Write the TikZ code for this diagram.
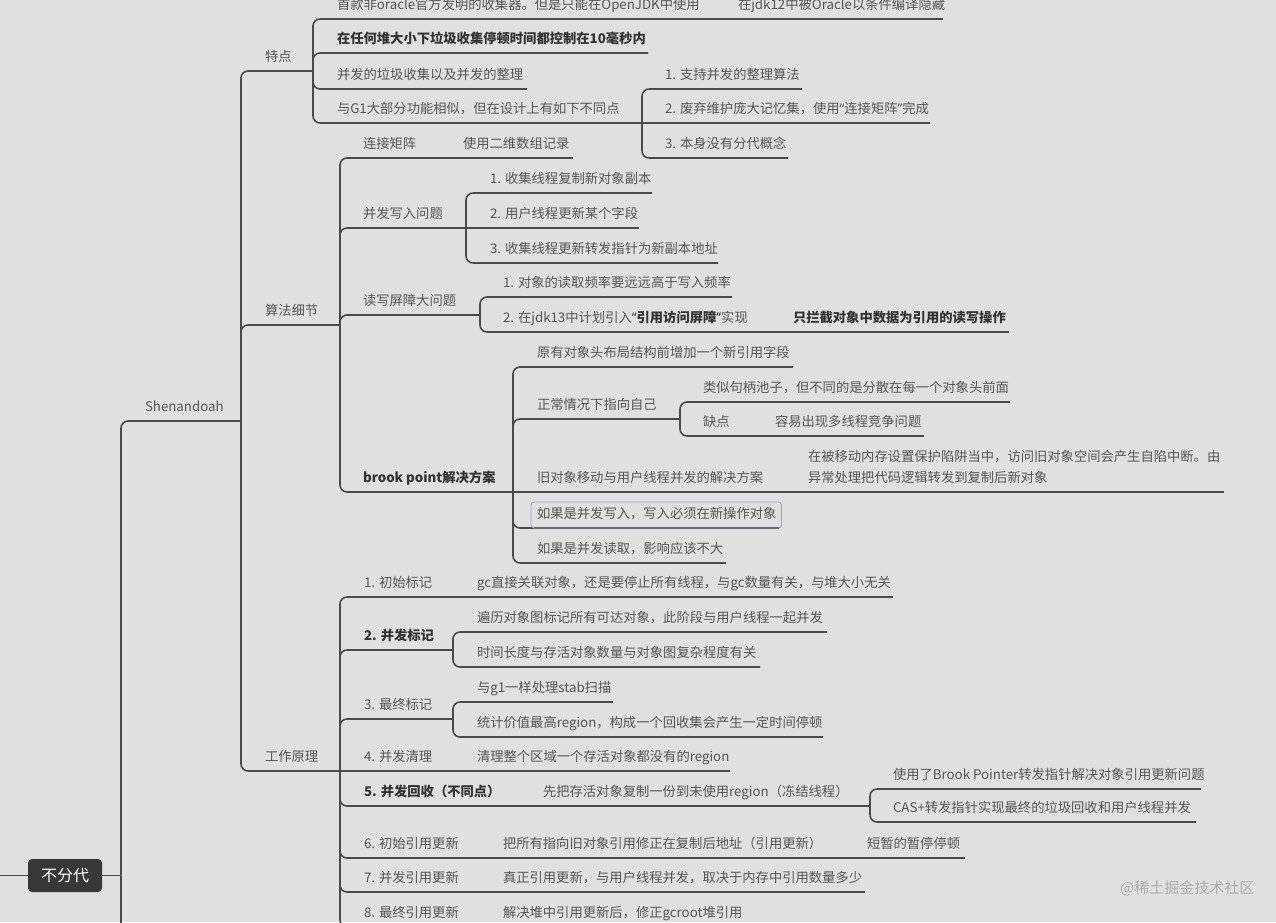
\documentclass[tikz,border=0pt]{standalone}
\usepackage{fontspec}
\setmainfont{Noto Sans CJK SC}
\newfontfamily\qfont{Noto Sans}
\definecolor{bg}{HTML}{E0E0E0}
\definecolor{ln}{HTML}{4A4A4A}
\definecolor{tx}{HTML}{555555}
\definecolor{tb}{HTML}{333333}
\definecolor{selc}{HTML}{A59BE3}
\definecolor{rootc}{HTML}{383838}
\definecolor{wm}{HTML}{ABABAB}
\begin{document}
\begin{tikzpicture}[x=1pt,y=-1pt,
  br/.style={draw=ln, line width=1.6pt, rounded corners=7pt},
  tp/.style={anchor=base west, inner sep=0pt, outer sep=0pt, text=tx, font=\fontsize{13.3}{16}\selectfont},
  tpb/.style={tp, text=tb, font=\fontsize{13.3}{16}\selectfont\bfseries},
  rootbox/.style={fill=rootc, rounded corners=4pt, minimum width=74pt, minimum height=33pt, inner sep=0pt, text=white, font=\fontsize{16}{18}\selectfont},
  selbox/.style={draw=selc, line width=0.9pt, rounded corners=3pt},
  wmark/.style={anchor=base west, inner sep=0pt, text=wm, font=\fontsize{15}{18}\selectfont},
]
\useasboundingbox (0,0) rectangle (1276,922);
\fill[bg] (0,0) rectangle (1276,922);
\clip (0,0) rectangle (1276,922);

% root
\node[rootbox] (root) at (65,875.5) {不分代};
\coordinate (in0) at (0,875.5);
\coordinate (b0) at (121,875.5);
\coordinate (off0) at (200,950);
\draw[br] (in0) -- (root.west);
\draw[br] (root.east) -- (b0);
\draw[br] (b0) |- (off0);

% level 1
\node[tp] (shen) at (145,411.5) {Shenandoah};
\coordinate (b1) at (241,421);
\draw[br] (b0) |- (b1);

% level 2
\node[tp] (tedian) at (265,61.5) {特点};
\coordinate (b2a) at (313,71);
\node[tp] (suanfa) at (265,315.5) {算法细节};
\coordinate (b2b) at (340,325);
\node[tp] (gongzuo) at (265,761.5) {工作原理};
\coordinate (b2c) at (340,771);
\draw[br] (b1) |- (b2a);
\draw[br] (b1) |- (b2b);
\draw[br] (b1) |- (b2c);

% 特点
\node[tp] (a1) at (337,9.5) {首款非oracle官方发明的收集器。但是只能在OpenJDK中使用};
\coordinate (a1e) at (715,19);
\node[tp] (a1c) at (738,9.5) {在jdk12中被Oracle以条件编译隐藏};
\coordinate (a1ce) at (943,19);
\node[tpb] (a2) at (337,43.5) {在任何堆大小下垃圾收集停顿时间都控制在10毫秒内};
\coordinate (a2e) at (648,53);
\node[tp] (a3) at (337,79.5) {并发的垃圾收集以及并发的整理};
\coordinate (a3e) at (527,89);
\node[tp] (a4) at (337,113.5) {与G1大部分功能相似，但在设计上有如下不同点};
\coordinate (a4e) at (642,123);
\draw[br] (b2a) |- (a1e);
\draw[br] (a1e) -- (a1ce);
\draw[br] (b2a) |- (a2e);
\draw[br] (b2a) |- (a3e);
\draw[br] (b2a) |- (a4e);
\node[tp] (a41) at (665,79.5) {1. 支持并发的整理算法};
\coordinate (a41e) at (802,89);
\node[tp] (a42) at (665,113.5) {2. 废弃维护庞大记忆集，使用{\qfont “}连接矩阵{\qfont ”}完成};
\coordinate (a42e) at (930,123);
\node[tp] (a43) at (665,148.5) {3. 本身没有分代概念};
\coordinate (a43e) at (788,158);
\draw[br] (a4e) |- (a41e);
\draw[br] (a4e) -- (a42e);
\draw[br] (a4e) |- (a43e);

% 算法细节
\node[tp] (c1) at (363,148.5) {连接矩阵};
\coordinate (c1e) at (450,158);
\node[tp] (c1c) at (463,148.5) {使用二维数组记录};
\coordinate (c1ce) at (573,158);
\draw[br] (b2b) |- (c1e);
\draw[br] (c1e) -- (c1ce);

\node[tp] (c2) at (363,218.5) {并发写入问题};
\coordinate (c2e) at (466,228);
\draw[br] (b2b) |- (c2e);
\node[tp] (c21) at (490,183.5) {1. 收集线程复制新对象副本};
\coordinate (c21e) at (652,193);
\node[tp] (c22) at (490,218.5) {2. 用户线程更新某个字段};
\coordinate (c22e) at (639,228);
\node[tp] (c23) at (490,253.5) {3. 收集线程更新转发指针为新副本地址};
\coordinate (c23e) at (718,263);
\draw[br] (c2e) |- (c21e);
\draw[br] (c2e) -- (c22e);
\draw[br] (c2e) |- (c23e);

\node[tp] (c3) at (363,305.5) {读写屏障大问题};
\coordinate (c3e) at (480,315);
\draw[br] (b2b) |- (c3e);
\node[tp] (c31) at (503,287.5) {1. 对象的读取频率要远远高于写入频率};
\coordinate (c31e) at (732,297);
\node[tp] (c32) at (503,322.5) {2. 在jdk13中计划引入\textcolor{tb}{\bfseries{\qfont “}引用访问屏障{\qfont ”}}实现};
\coordinate (c32e) at (770,332);
\node[tpb] (c32c) at (793,322.5) {只拦截对象中数据为引用的读写操作};
\coordinate (c32ce) at (1009,332);
\draw[br] (c3e) |- (c31e);
\draw[br] (c3e) |- (c32e);
\draw[br] (c32e) -- (c32ce);

\node[tpb] (c4) at (363,482.5) {brook point解决方案};
\coordinate (c4e) at (513,492);
\draw[br] (b2b) |- (c4e);
\node[tp] (c41) at (537,357.5) {原有对象头布局结构前增加一个新引用字段};
\coordinate (c41e) at (793,367);
\node[tp] (c42) at (537,409.5) {正常情况下指向自己};
\coordinate (c42e) at (680,419);
\node[tp] (c43) at (537,482.5) {旧对象移动与用户线程并发的解决方案};
\coordinate (c43e) at (785,492);
\node[tp] (c44) at (537,518.5) {如果是并发写入，写入必须在新操作对象};
\coordinate (c44e) at (779,528);
\node[tp] (c45) at (537,553.5) {如果是并发读取，影响应该不大};
\coordinate (c45e) at (726,563);
\draw[br] (c4e) |- (c41e);
\draw[br] (c4e) |- (c42e);
\draw[br] (c4e) -- (c43e);
\draw[br] (c4e) |- (c44e);
\draw[br] (c4e) |- (c45e);
\draw[selbox] ([xshift=-6pt,yshift=16.5pt]c44.base west) rectangle ([xshift=5pt,yshift=-9.5pt]c44.base east);

\node[tp] (c421) at (703,392.5) {类似句柄池子，但不同的是分散在每一个对象头前面};
\coordinate (c421e) at (1010,402);
\node[tp] (c422) at (703,426.5) {缺点};
\coordinate (c422e) at (752,436);
\node[tp] (c422c) at (775,426.5) {容易出现多线程竞争问题};
\coordinate (c422ce) at (924,436);
\draw[br] (c42e) |- (c421e);
\draw[br] (c42e) |- (c422e);
\draw[br] (c422e) -- (c422ce);

\node[tp] (c43ca) at (808,461.5) {在被移动内存设置保护陷阱当中，访问旧对象空间会产生自陷中断。由};
\node[tp] (c43cb) at (808,482.5) {异常处理把代码逻辑转发到复制后新对象};
\coordinate (c43ce) at (1224,492);
\draw[br] (c43e) -- (c43ce);

% 工作原理
\node[tp] (d1) at (364,587.5) {1. 初始标记};
\coordinate (d1e) at (455,597);
\node[tp] (d1c) at (477,587.5) {gc直接关联对象，还是要停止所有线程，与gc数量有关，与堆大小无关};
\coordinate (d1ce) at (893,597);
\draw[br] (b2c) |- (d1e);
\draw[br] (d1e) -- (d1ce);

\node[tpb] (d2) at (364,640.5) {2. 并发标记};
\coordinate (d2e) at (453,650);
\draw[br] (b2c) |- (d2e);
\node[tp] (d21) at (477,622.5) {遍历对象图标记所有可达对象，此阶段与用户线程一起并发};
\coordinate (d21e) at (827,632);
\node[tp] (d22) at (477,657.5) {时间长度与存活对象数量与对象图复杂程度有关};
\coordinate (d22e) at (760,667);
\draw[br] (d2e) |- (d21e);
\draw[br] (d2e) |- (d22e);

\node[tp] (d3) at (364,709.5) {3. 最终标记};
\coordinate (d3e) at (453,719);
\draw[br] (b2c) |- (d3e);
\node[tp] (d31) at (477,692.5) {与g1一样处理stab扫描};
\coordinate (d31e) at (613,702);
\node[tp] (d32) at (477,727.5) {统计价值最高region，构成一个回收集会产生一定时间停顿};
\coordinate (d32e) at (823,737);
\draw[br] (d3e) |- (d31e);
\draw[br] (d3e) |- (d32e);

\node[tp] (d4) at (364,761.5) {4. 并发清理};
\coordinate (d4e) at (455,771);
\node[tp] (d4c) at (477,761.5) {清理整个区域一个存活对象都没有的region};
\coordinate (d4ce) at (730,771);
\draw[br] (b2c) -- (d4e);
\draw[br] (d4e) -- (d4ce);

\node[tpb] (d5) at (364,796.5) {5. 并发回收（不同点）};
\coordinate (d5e) at (520,806);
\node[tp] (d5c) at (543,796.5) {先把存活对象复制一份到未使用region（冻结线程）};
\coordinate (d5ce) at (870,806);
\draw[br] (b2c) |- (d5e);
\draw[br] (d5e) -- (d5ce);
\node[tp] (d51) at (893,779.5) {使用了Brook Pointer转发指针解决对象引用更新问题};
\coordinate (d51e) at (1201,789);
\node[tp] (d52) at (893,812.5) {CAS+转发指针实现最终的垃圾回收和用户线程并发};
\coordinate (d52e) at (1196,822);
\draw[br] (d5ce) |- (d51e);
\draw[br] (d5ce) |- (d52e);

\node[tp] (d6) at (364,848.5) {6. 初始引用更新};
\coordinate (d6e) at (480,858);
\node[tp] (d6c) at (503,848.5) {把所有指向旧对象引用修正在复制后地址（引用更新）};
\coordinate (d6ce) at (845,858);
\node[tp] (d6cc) at (867,848.5) {短暂的暂停停顿};
\coordinate (d6cce) at (965,858);
\draw[br] (b2c) |- (d6e);
\draw[br] (d6e) -- (d6ce);
\draw[br] (d6ce) -- (d6cce);

\node[tp] (d7) at (364,882.5) {7. 并发引用更新};
\coordinate (d7e) at (480,892);
\node[tp] (d7c) at (503,882.5) {真正引用更新，与用户线程并发，取决于内存中引用数量多少};
\coordinate (d7ce) at (865,892);
\draw[br] (b2c) |- (d7e);
\draw[br] (d7e) -- (d7ce);

\node[tp] (d8) at (364,917.5) {8. 最终引用更新};
\coordinate (d8e) at (480,927);
\node[tp] (d8c) at (503,917.5) {解决堆中引用更新后，修正gcroot堆引用};
\coordinate (d8ce) at (745,927);
\draw[br] (b2c) |- (d8e);
\draw[br] (d8e) -- (d8ce);

% watermark
\node[wmark] (wm) at (1120,893.5) {@稀土掘金技术社区};
\end{tikzpicture}
\end{document}
